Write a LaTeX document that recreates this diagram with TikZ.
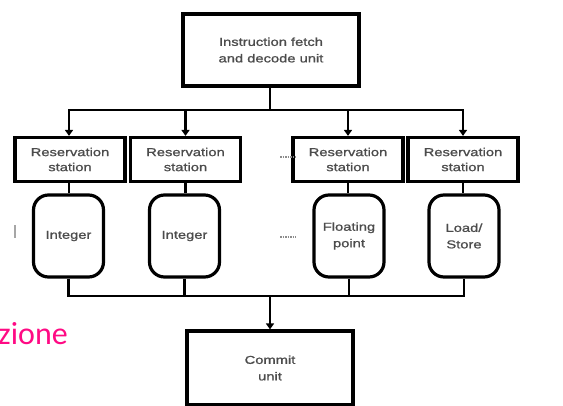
\documentclass[tikz,border=0pt]{standalone}
\usepackage{fontspec}
\setmainfont{Liberation Sans}
\newfontfamily\diagfont[FakeStretch=1.28, FakeBold=1.2]{Liberation Sans}
\newfontfamily\slidefont{Carlito}
\usetikzlibrary{arrows.meta}
\definecolor{slidepink}{HTML}{FF0A84}
\tikzset{
  unitbox/.style={draw, line width=3.2pt, rectangle, inner sep=0pt, align=center,
    font=\diagfont\fontsize{11.5}{16.5}\selectfont, text=black!70},
  topbox/.style={unitbox, minimum width=176pt, minimum height=72pt},
  rsbox/.style={unitbox, minimum width=110pt, minimum height=44pt, font=\diagfont\fontsize{11.5}{15}\selectfont},
  fubox/.style={unitbox, rounded corners=15pt, minimum width=70pt, minimum height=82pt},
  wire/.style={line width=2.6pt},
  feed/.style={wire, -{Triangle[length=6pt,width=8pt]}},
  gap/.style={draw=black!45, line width=1.3pt, dash pattern=on 1.6pt off 0.9pt}
}
\begin{document}
\begin{tikzpicture}[x=1pt,y=-1pt]
\useasboundingbox (0,0) rectangle (563,405);

% fetch / decode unit
\node[topbox] (fetch) at (271,50) {Instruction fetch\\and decode unit};

% reservation stations
\node[rsbox] (rs1) at (70,159.5)  {Reservation\\station};
\node[rsbox] (rs2) at (185.5,159.5) {Reservation\\station};
\node[rsbox] (rs3) at (348,159.5) {Reservation\\station};
\node[rsbox] (rs4) at (463,159.5) {Reservation\\station};

% functional units
\node[fubox] (fu1) at (68.5,236)  {Integer};
\node[fubox] (fu2) at (184.5,236) {Integer};
\node[fubox] (fu3) at (349,236)   {Floating\\point};
\node[fubox] (fu4) at (464,236)   {Load/\\Store};

% commit unit
\node[topbox, minimum width=166pt, minimum height=74pt] (commit) at (270,368) {Commit\\unit};

% issue bus
\coordinate (issue) at (270,110);
\draw[wire] (fetch.south -| issue) -- (issue);
\draw[feed] (issue) -| ([xshift=-1pt]rs1.north);
\draw[feed] (issue) -| (rs2.north);
\draw[feed] (issue) -| (rs3.north);
\draw[feed] (issue) -| (rs4.north);

% stations to units
\draw[wire] ([xshift=-1pt]rs1.south) -- ([xshift=-1pt]rs1.south |- fu1.north);
\draw[wire] (rs2.south) -- (rs2.south |- fu2.north);
\draw[wire] (rs3.south) -- (rs3.south |- fu3.north);
\draw[wire] (rs4.south) -- (rs4.south |- fu4.north);

% result bus
\coordinate (result) at (270,296);
\draw[wire, line width=2.3pt] (fu1.south) |- (result) -| (fu4.south);
\draw[wire, line width=2.3pt] (fu2.south) -- (fu2.south |- result);
\draw[wire, line width=2.3pt] (fu3.south) -- (fu3.south |- result);
\draw[feed] (result) -- (commit.north -| result);

% elided stations and units
\draw[gap] (280,157) -- (296,157);
\draw[gap] (280,237) -- (296,237);

% slide remnants
\fill[black!35] (14,225) rectangle (16,238);
\node[anchor=base east, inner sep=0pt, text=slidepink, font=\slidefont\fontsize{32}{36}\selectfont] (word) at (68,344) {zione};
\end{tikzpicture}
\end{document}
